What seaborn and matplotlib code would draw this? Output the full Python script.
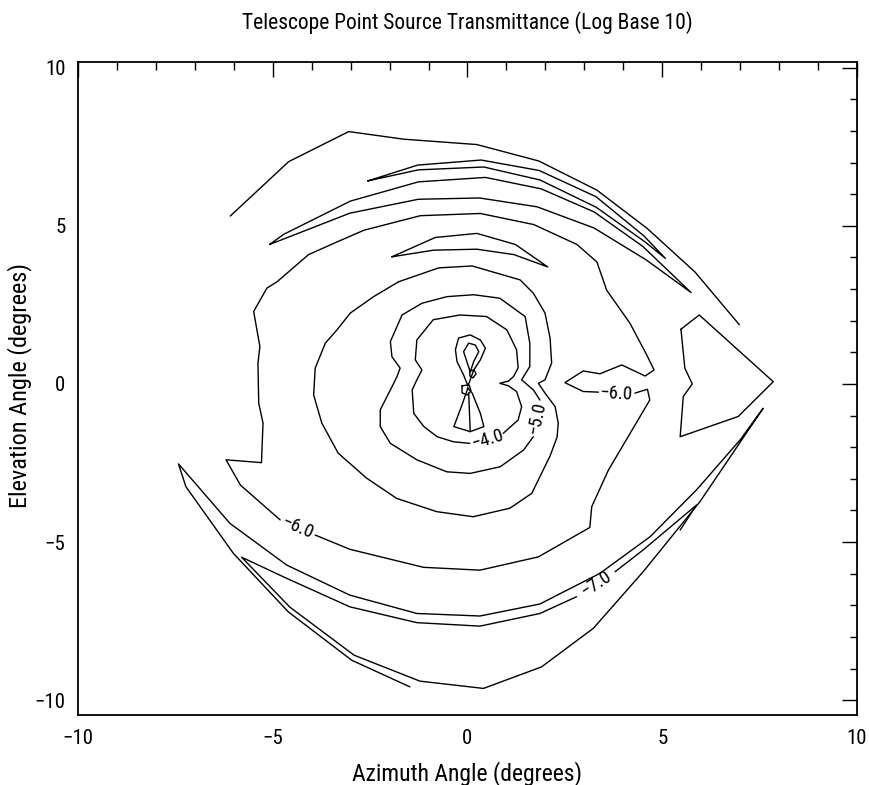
import numpy as np
import pandas as pd
import matplotlib
matplotlib.use("Agg")
import matplotlib.pyplot as plt
import seaborn as sns
from matplotlib.ticker import MultipleLocator

# ---------------- contour polylines (degrees) ----------------
# outermost open arc (top)
A_x = [-6.09, -4.59, -3.05, -1.64, 0.24, 1.83, 3.32, 4.61, 5.84, 6.98]
A_y = [5.31, 7.03, 7.98, 7.74, 7.57, 7.05, 6.13, 4.92, 3.54, 1.87]
# thin closed sliver (top)
B_x = [-2.56, -1.28, 0.35, 1.84, 3.30, 4.53, 5.08, 4.56, 3.30, 1.86, 0.42, -1.26, -2.56]
B_y = [6.42, 6.92, 7.08, 6.75, 5.92, 4.68, 3.97, 4.49, 5.59, 6.45, 6.86, 6.77, 6.42]
# second closed sliver (top)
C_x = [-5.08, -4.72, -3.01, -1.26, 0.46, 1.89, 3.25, 4.50, 5.74, 4.59, 3.25, 1.79, 0.31, -1.26, -3.02, -5.08]
C_y = [4.41, 4.73, 5.78, 6.39, 6.53, 6.17, 5.44, 4.35, 2.89, 3.92, 4.93, 5.60, 5.88, 5.84, 5.40, 4.41]
# small sliver above centre
J_x = [-1.94, -0.83, 0.24, 1.23, 2.06, 1.19, 0.24, -0.87, -1.94]
J_y = [4.02, 4.63, 4.76, 4.41, 3.70, 4.09, 4.26, 4.23, 4.02]
# -6.0 contour (two pieces, split at labels)
H1_x = [-3.91, -3.02, -1.13, 0.32, 1.82, 3.14, 3.19, 3.62, 4.68, 4.62, 4.30]
H1_y = [-4.78, -5.23, -5.80, -5.89, -5.47, -4.54, -3.88, -2.72, -0.51, -0.17, -0.29]
H2_x = [3.36, 2.97, 2.50, 2.97, 3.40, 3.96, 4.56, 4.79, 4.60, 4.17, 3.57, 3.50, 3.32, 2.81,
        1.70, 0.33, -1.21, -2.66, -3.35, -4.08, -4.89, -5.15, -5.49, -5.33, -5.38, -5.36,
        -5.25, -5.29, -6.20, -5.83, -4.81]
H2_y = [-0.26, -0.24, 0.04, 0.41, 0.32, 0.60, 0.25, 0.44, 0.92, 1.92, 2.97, 3.23, 3.86, 4.41,
        5.04, 5.39, 5.32, 4.86, 4.49, 4.09, 3.23, 3.03, 2.29, 1.18, 0.66, -0.61,
        -1.24, -2.49, -2.40, -3.20, -4.30]
# unlabeled closed contour around centre
I_x = [-1.77, -0.74, 0.12, 0.93, 1.35, 1.69, 1.99, 2.12, 2.16, 1.99, 1.82, 1.99, 2.25, 2.33,
       2.30, 2.12, 1.90, 1.65, 1.09, 0.15, -0.79, -1.82, -2.59, -3.32, -3.74, -3.95, -3.91,
       -3.65, -3.35, -3.01, -2.41, -1.77]
I_y = [3.23, 3.67, 3.73, 3.44, 3.29, 2.87, 2.24, 1.45, 0.66, 0.13, 0.02, -0.29, -0.72, -1.24,
       -1.68, -2.28, -2.83, -3.46, -3.93, -4.20, -4.04, -3.62, -2.98, -2.19, -1.24, -0.35, 0.50,
       1.29, 1.71, 2.24, 2.76, 3.23]
# -5.0 contour
K_x = [1.69, 1.44, 0.84, 0.07, -0.53, -1.30, -1.98, -2.24, -2.24, -1.98, -1.81, -1.73, -1.94,
       -1.98, -1.68, -1.17, -0.53, 0.16, 0.83, 1.48, 1.60, 1.60, 1.39, 1.69, 1.86]
K_y = [-1.67, -2.09, -2.62, -2.83, -2.78, -2.40, -1.88, -1.35, -0.82, -0.19, 0.23, 0.50, 0.86,
       1.34, 2.18, 2.55, 2.76, 2.82, 2.71, 2.13, 1.29, 0.55, 0.13, -0.19, -0.51]
# -4.0 contour
L_x = [0.92, 1.30, 1.39, 1.26, 1.05, 0.83, 1.05, 1.18, 1.30, 1.26, 1.01, 0.49, -0.19, -0.88,
       -1.30, -1.34, -1.17, -1.30, -1.42, -1.38, -1.12, -0.78, -0.36, 0.06]
L_y = [-1.56, -1.14, -0.72, -0.24, -0.06, 0.02, 0.09, 0.23, 0.51, 1.08, 1.71, 2.13, 2.18, 2.03,
       1.39, 0.76, 0.44, 0.13, -0.19, -0.93, -1.35, -1.67, -1.83, -1.88]
# central bow-tie pieces
M1_x = [0.01, -0.10, -0.27, -0.31, -0.23, 0.07, 0.33, 0.46, 0.33, 0.16, 0.07, 0.01]
M1_y = [-0.06, 0.28, 0.71, 1.08, 1.45, 1.55, 1.39, 1.13, 0.76, 0.44, 0.13, -0.06]
M2_x = [0.01, 0.12, 0.33, 0.42, 0.07, -0.35, -0.14, 0.01]
M2_y = [-0.13, -0.29, -0.93, -1.35, -1.51, -1.35, -0.66, -0.13]
M3_x = [0.07, -0.10, 0.03, 0.20, 0.29, 0.16, 0.07]
M3_y = [0.38, 1.02, 1.29, 1.23, 1.02, 0.71, 0.38]
M4_x = [0.03, 0.07]
M4_y = [-0.29, -1.51]
T1_x = [0.06, 0.17, 0.22, 0.14, 0.06, 0.06]
T1_y = [0.41, 0.44, 0.32, 0.19, 0.25, 0.41]
T2_x = [-0.14, 0.04, 0.09, -0.01, -0.14, -0.14]
T2_y = [-0.06, -0.03, -0.22, -0.35, -0.28, -0.06]
# triangle on the right
N_x = [5.48, 5.95, 7.85, 6.95, 5.46, 5.54, 5.77, 5.58, 5.48]
N_y = [1.73, 2.18, 0.07, -1.03, -1.67, -0.40, 0.00, 0.50, 1.73]
# outer spiral contour ending in the -7.0 label
P_x = [-1.48, -2.97, -4.60, -6.01, -7.23, -7.42, -6.10, -4.64, -3.02, -1.30, 0.32, 1.86, 3.40,
       4.69, 5.88, 7.00, 7.59, 5.97, 4.51, 3.23, 1.90, 0.41, -1.22, -2.91, -4.56, -5.80, -4.64,
       -3.02, -1.30, 0.32, 1.86, 2.80]
P_y = [-9.58, -8.74, -7.21, -5.36, -3.25, -2.53, -4.41, -5.73, -6.68, -7.26, -7.34, -6.96, -5.99,
       -4.83, -3.35, -1.77, -0.77, -3.72, -5.94, -7.73, -8.95, -9.63, -9.40, -8.58, -7.06, -5.48,
       -6.15, -7.05, -7.55, -7.66, -7.26, -6.73]
P2_x = [3.79, 4.51, 5.88, 5.46]
P2_y = [-5.94, -5.25, -3.83, -4.62]

# contour labels
label_text = ["\u22126.0", "\u22126.0", "\u22125.0", "\u22124.0", "\u22127.0"]
label_x = [-4.36, 3.82, 1.78, 0.51, 3.30]
label_y = [-4.54, -0.32, -1.08, -1.76, -6.33]
label_rot = [-23, -3, 78, 17, 34]

title = "Telescope Point Source Transmittance (Log Base 10)"
xlabel = "Azimuth Angle (degrees)"
ylabel = "Elevation Angle (degrees)"
ticks = [-10, -5, 0, 5, 10]
tick_labels = ["\u221210", "\u22125", "0", "5", "10"]

segments = {
    "A": (A_x, A_y), "B": (B_x, B_y), "C": (C_x, C_y), "J": (J_x, J_y),
    "H1": (H1_x, H1_y), "H2": (H2_x, H2_y), "I": (I_x, I_y), "K": (K_x, K_y),
    "L": (L_x, L_y), "M1": (M1_x, M1_y), "M2": (M2_x, M2_y), "M3": (M3_x, M3_y),
    "M4": (M4_x, M4_y), "T1": (T1_x, T1_y), "T2": (T2_x, T2_y), "N": (N_x, N_y),
    "P": (P_x, P_y), "P2": (P2_x, P2_y),
}
rows = []
for name, (xs, ys) in segments.items():
    for i, (x, y) in enumerate(zip(xs, ys)):
        rows.append((name, i, x, y))
df = pd.DataFrame(rows, columns=["seg", "order", "x", "y"])

# ---------------- drawing ----------------
sns.set_theme(style="white")
plt.rcParams["font.family"] = ["Roboto Condensed", "Open Sans Condensed", "Liberation Sans"]
plt.rcParams["axes.edgecolor"] = "black"
plt.rcParams["text.color"] = "black"

fig = plt.figure(figsize=(8.7, 7.85), dpi=100)
W, Hh = 870.0, 785.0
ax = fig.add_axes([78 / W, 1 - 715.3 / Hh, (857 - 78) / W, (715.3 - 61.7) / Hh])

sns.lineplot(data=df, x="x", y="y", units="seg", estimator=None, sort=False,
             color="black", linewidth=1.0, ax=ax, legend=False)

for t, x, y, r in zip(label_text, label_x, label_y, label_rot):
    ax.text(x, y, t, rotation=r, rotation_mode="anchor", ha="center", va="center",
            fontsize=13.5, color="black")

ax.set_xlim(-10, 10)
ax.set_ylim(-10.48, 10.19)
ax.set_xticks(ticks)
ax.set_yticks(ticks)
ax.set_xticklabels(tick_labels)
ax.set_yticklabels(tick_labels)
ax.xaxis.set_minor_locator(MultipleLocator(1))
ax.yaxis.set_minor_locator(MultipleLocator(1))
ax.tick_params(which="both", direction="in", top=True, right=True, color="black",
               width=1.0, labelcolor="black")
ax.tick_params(which="major", length=10.8, labelsize=15)
ax.tick_params(axis="y", which="major", pad=9)
ax.tick_params(axis="x", which="major", pad=10)
ax.tick_params(which="minor", length=5.4)
for s in ax.spines.values():
    s.set_linewidth(1.3)
    s.set_color("black")
ax.set_xlabel("")
ax.set_ylabel("")

fig.text(467.5 / W, 1 - 23 / Hh, title, ha="center", va="center", fontsize=15.5)
fig.text(467.5 / W, 1 - 774 / Hh, xlabel, ha="center", va="center", fontsize=17)
fig.text(20 / W, 1 - 386 / Hh, ylabel, ha="center", va="center", rotation=90, fontsize=17.5)

fig.savefig("out.png", dpi=100, facecolor="white")
